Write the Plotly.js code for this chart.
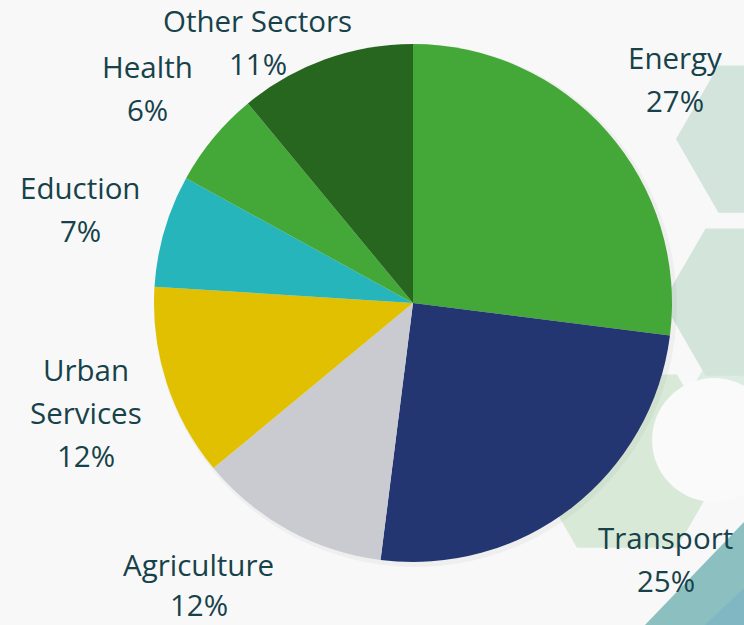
<!DOCTYPE html>
<html>
<head>
<meta charset="utf-8">
<script src="https://cdn.plot.ly/plotly-3.0.1.min.js"></script>
<style>
html,body{margin:0;padding:0;background:#f8f8f8;}
#chart{width:744px;height:625px;}
</style>
</head>
<body>
<div id="chart"></div>
<script>
// ---- data ----
const sectors = ["Energy", "Transport", "Agriculture", "Urban<br>Services", "Eduction", "Health", "Other Sectors"];
const shares = [27, 25, 12, 12, 7, 6, 11];
const sliceColors = ["#43a838", "#233672", "#c9cbd1", "#e0c000", "#25b5ba", "#43a838", "#27661f"];

// ---- layout helpers (pixel -> paper) ----
const W = 744, H = 625;
const px = x => x / W;
const py = y => 1 - y / H;
function hexPath(cx, cy, s) {
  const pts = [];
  for (let i = 0; i < 6; i++) {
    const a = Math.PI / 3 * i;
    pts.push([cx + s * Math.cos(a), cy + s * Math.sin(a)]);
  }
  return 'M' + pts.map(p => px(p[0]).toFixed(4) + ',' + py(p[1]).toFixed(4)).join('L') + 'Z';
}
function polyPath(pts) {
  return 'M' + pts.map(p => px(p[0]).toFixed(4) + ',' + py(p[1]).toFixed(4)).join('L') + 'Z';
}

const shapes = [
  {type: 'path', path: hexPath(790, 392, 100), fillcolor: '#dcece3', line: {width: 0}, layer: 'below', xref: 'paper', yref: 'paper'},
  {type: 'path', path: hexPath(761, 139, 85), fillcolor: '#d2e4dc', line: {width: 0}, layer: 'below', xref: 'paper', yref: 'paper'},
  {type: 'path', path: hexPath(748, 302, 85), fillcolor: '#d3e5da', line: {width: 0}, layer: 'below', xref: 'paper', yref: 'paper'},
  {type: 'path', path: hexPath(627, 461, 100), fillcolor: '#d8ead7', line: {width: 0}, layer: 'below', xref: 'paper', yref: 'paper'},
  {type: 'circle', xref: 'paper', yref: 'paper', x0: px(652), x1: px(776), y0: py(502), y1: py(378), fillcolor: '#fafafa', line: {width: 0}, layer: 'below'},
  {type: 'path', path: polyPath([[645, 625], [744, 522], [744, 625]]), fillcolor: '#8bbfc0', line: {width: 0}, layer: 'below', xref: 'paper', yref: 'paper'},
  {type: 'path', path: polyPath([[705, 625], [744, 588], [744, 625]]), fillcolor: '#80b7c3', line: {width: 0}, layer: 'below', xref: 'paper', yref: 'paper'},
  // soft shadow behind the pie (offset right/down)
  {type: 'circle', xref: 'paper', yref: 'paper', x0: px(413 - 259), x1: px(413 + 264), y0: py(567), y1: py(44), fillcolor: 'rgba(0,0,0,0.035)', line: {width: 0}, layer: 'below'}
];

// label positions: [centre x, cap-centre y of first line] in pixels; line step
const labelPos = [[674.5, 60], [665.5, 539], [198.5, 566], [86, 371], [80, 190], [147.5, 69], [257.5, 22]];
const lineStep = 43;
const fontSize = 29.5;
const labelFont = {family: '"Open Sans", Lato, sans-serif', size: fontSize, color: '#17424a'};
const annotations = [];
sectors.forEach((s, i) => {
  const lines = s.split('<br>').concat([shares[i] + '%']);
  lines.forEach((ln, j) => {
    let yc = labelPos[i][1] + j * lineStep - 2;
    yc = Math.min(yc, H - fontSize * 0.68);   // keep the text box inside the canvas
    annotations.push({
      text: ln,
      x: px(labelPos[i][0]), y: py(yc),
      xref: 'paper', yref: 'paper', xanchor: 'center', yanchor: 'middle',
      showarrow: false, font: labelFont
    });
  });
});

const trace = {
  type: 'pie',
  values: shares,
  labels: sectors,
  marker: {colors: sliceColors, line: {width: 0}},
  sort: false,
  direction: 'clockwise',
  rotation: 0,
  textinfo: 'none',
  hoverinfo: 'label+percent',
  domain: {x: [px(413 - 259), px(413 + 259)], y: [py(562), py(44)]},
  showlegend: false
};

const layout = {
  width: W, height: H,
  margin: {l: 0, r: 0, t: 0, b: 0},
  paper_bgcolor: '#f8f8f8',
  plot_bgcolor: '#f8f8f8',
  showlegend: false,
  shapes: shapes,
  annotations: annotations
};

Plotly.newPlot('chart', [trace], layout, {displayModeBar: false, staticPlot: true});
</script>
</body>
</html>
